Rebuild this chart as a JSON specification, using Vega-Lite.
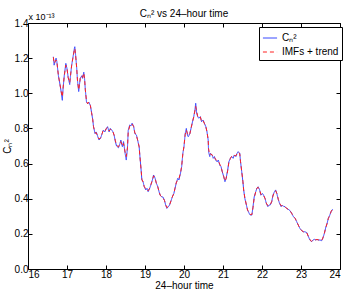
{
  "$schema": "https://vega.github.io/schema/vega-lite/v6.json",
  "width": 312,
  "height": 246,
  "autosize": {"type": "none"},
  "padding": {"left": 28, "top": 23, "right": 7, "bottom": 22},
  "background": "white",
  "config": {
    "font": "Liberation Sans",
    "view": {"stroke": "black", "strokeWidth": 1},
    "axis": {"grid": false, "domain": false, "tickColor": "black", "tickSize": -4, "labelColor": "black", "labelFontSize": 10, "labelFont": "Liberation Sans", "titleFont": "Liberation Sans", "titleFontSize": 10, "titleFontWeight": "normal", "titleColor": "black"}
  },
  "title": {"text": "Cₙ² vs 24–hour time", "fontSize": 10, "fontWeight": "normal", "font": "Liberation Sans", "color": "black", "offset": -6},
  "data": {"values": [
    {"t":16.65,"c":1.208,"m":1.205},{"t":16.67,"c":1.16,"m":1.17},{"t":16.72,"c":1.20,"m":1.19},{"t":16.74,"c":1.18,"m":1.18},{"t":16.78,"c":1.10,"m":1.10},{"t":16.82,"c":1.05,"m":1.05},{"t":16.85,"c":1.01,"m":1.01},{"t":16.88,"c":0.96,"m":0.98},{"t":16.90,"c":1.03,"m":1.03},{"t":16.93,"c":1.10,"m":1.10},{"t":16.97,"c":1.17,"m":1.16},{"t":17.00,"c":1.14,"m":1.14},{"t":17.03,"c":1.09,"m":1.09},{"t":17.07,"c":1.05,"m":1.06},{"t":17.09,"c":1.10,"m":1.10},{"t":17.12,"c":1.16,"m":1.16},{"t":17.15,"c":1.20,"m":1.20},{"t":17.19,"c":1.256,"m":1.25},{"t":17.20,"c":1.265,"m":1.255},{"t":17.22,"c":1.22,"m":1.22},{"t":17.25,"c":1.14,"m":1.14},{"t":17.27,"c":1.07,"m":1.07},{"t":17.30,"c":1.01,"m":1.02},{"t":17.32,"c":1.05,"m":1.05},{"t":17.34,"c":1.085,"m":1.085},{"t":17.38,"c":1.10,"m":1.10},{"t":17.40,"c":1.085,"m":1.09},{"t":17.43,"c":1.12,"m":1.115},{"t":17.45,"c":1.085,"m":1.085},{"t":17.47,"c":1.02,"m":1.02},{"t":17.50,"c":0.95,"m":0.955},{"t":17.53,"c":0.94,"m":0.94},{"t":17.56,"c":0.95,"m":0.95},{"t":17.60,"c":0.93,"m":0.93},{"t":17.63,"c":0.89,"m":0.89},{"t":17.66,"c":0.85,"m":0.85},{"t":17.68,"c":0.81,"m":0.81},{"t":17.72,"c":0.77,"m":0.775},{"t":17.75,"c":0.78,"m":0.775},{"t":17.79,"c":0.753,"m":0.755},{"t":17.82,"c":0.734,"m":0.74},{"t":17.86,"c":0.744,"m":0.745},{"t":17.90,"c":0.77,"m":0.77},{"t":17.93,"c":0.79,"m":0.79},{"t":17.97,"c":0.78,"m":0.785},{"t":18.01,"c":0.80,"m":0.80},{"t":18.04,"c":0.81,"m":0.805},{"t":18.08,"c":0.78,"m":0.785},{"t":18.11,"c":0.80,"m":0.795},{"t":18.15,"c":0.79,"m":0.79},{"t":18.18,"c":0.78,"m":0.78},{"t":18.21,"c":0.76,"m":0.76},{"t":18.24,"c":0.725,"m":0.73},{"t":18.27,"c":0.70,"m":0.705},{"t":18.32,"c":0.69,"m":0.695},{"t":18.36,"c":0.715,"m":0.715},{"t":18.38,"c":0.734,"m":0.725},{"t":18.42,"c":0.696,"m":0.70},{"t":18.45,"c":0.725,"m":0.715},{"t":18.49,"c":0.658,"m":0.665},{"t":18.52,"c":0.62,"m":0.64},{"t":18.55,"c":0.687,"m":0.69},{"t":18.57,"c":0.79,"m":0.78},{"t":18.61,"c":0.82,"m":0.815},{"t":18.64,"c":0.814,"m":0.815},{"t":18.67,"c":0.83,"m":0.825},{"t":18.71,"c":0.81,"m":0.81},{"t":18.74,"c":0.77,"m":0.775},{"t":18.78,"c":0.763,"m":0.76},{"t":18.81,"c":0.734,"m":0.735},{"t":18.85,"c":0.696,"m":0.695},{"t":18.87,"c":0.64,"m":0.64},{"t":18.90,"c":0.563,"m":0.565},{"t":18.92,"c":0.507,"m":0.51},{"t":18.95,"c":0.497,"m":0.495},{"t":18.98,"c":0.468,"m":0.47},{"t":19.02,"c":0.45,"m":0.455},{"t":19.05,"c":0.459,"m":0.455},{"t":19.08,"c":0.44,"m":0.445},{"t":19.12,"c":0.459,"m":0.46},{"t":19.15,"c":0.478,"m":0.48},{"t":19.19,"c":0.507,"m":0.505},{"t":19.22,"c":0.535,"m":0.53},{"t":19.26,"c":0.516,"m":0.515},{"t":19.29,"c":0.488,"m":0.49},{"t":19.33,"c":0.468,"m":0.465},{"t":19.36,"c":0.44,"m":0.44},{"t":19.39,"c":0.42,"m":0.42},{"t":19.43,"c":0.41,"m":0.41},{"t":19.46,"c":0.41,"m":0.405},{"t":19.50,"c":0.39,"m":0.39},{"t":19.53,"c":0.364,"m":0.365},{"t":19.56,"c":0.345,"m":0.35},{"t":19.60,"c":0.355,"m":0.355},{"t":19.63,"c":0.364,"m":0.365},{"t":19.67,"c":0.39,"m":0.39},{"t":19.70,"c":0.41,"m":0.41},{"t":19.74,"c":0.43,"m":0.43},{"t":19.77,"c":0.459,"m":0.46},{"t":19.80,"c":0.488,"m":0.49},{"t":19.84,"c":0.516,"m":0.51},{"t":19.87,"c":0.507,"m":0.515},{"t":19.91,"c":0.545,"m":0.545},{"t":19.94,"c":0.582,"m":0.585},{"t":19.97,"c":0.658,"m":0.655},{"t":20.00,"c":0.696,"m":0.70},{"t":20.03,"c":0.77,"m":0.765},{"t":20.06,"c":0.80,"m":0.79},{"t":20.09,"c":0.76,"m":0.77},{"t":20.11,"c":0.753,"m":0.76},{"t":20.15,"c":0.77,"m":0.77},{"t":20.18,"c":0.80,"m":0.80},{"t":20.21,"c":0.83,"m":0.83},{"t":20.25,"c":0.867,"m":0.865},{"t":20.28,"c":0.905,"m":0.90},{"t":20.30,"c":0.943,"m":0.925},{"t":20.32,"c":0.895,"m":0.90},{"t":20.35,"c":0.867,"m":0.87},{"t":20.38,"c":0.858,"m":0.86},{"t":20.42,"c":0.867,"m":0.865},{"t":20.45,"c":0.838,"m":0.84},{"t":20.49,"c":0.848,"m":0.845},{"t":20.52,"c":0.83,"m":0.83},{"t":20.56,"c":0.81,"m":0.81},{"t":20.59,"c":0.78,"m":0.78},{"t":20.62,"c":0.734,"m":0.735},{"t":20.63,"c":0.668,"m":0.685},{"t":20.66,"c":0.64,"m":0.65},{"t":20.68,"c":0.658,"m":0.655},{"t":20.72,"c":0.649,"m":0.65},{"t":20.75,"c":0.63,"m":0.635},{"t":20.78,"c":0.64,"m":0.635},{"t":20.81,"c":0.62,"m":0.625},{"t":20.85,"c":0.61,"m":0.615},{"t":20.88,"c":0.62,"m":0.615},{"t":20.92,"c":0.59,"m":0.595},{"t":20.95,"c":0.582,"m":0.58},{"t":20.98,"c":0.554,"m":0.555},{"t":21.02,"c":0.525,"m":0.525},{"t":21.05,"c":0.497,"m":0.50},{"t":21.08,"c":0.516,"m":0.515},{"t":21.12,"c":0.563,"m":0.56},{"t":21.15,"c":0.61,"m":0.605},{"t":21.19,"c":0.63,"m":0.63},{"t":21.22,"c":0.64,"m":0.64},{"t":21.26,"c":0.63,"m":0.635},{"t":21.29,"c":0.649,"m":0.645},{"t":21.33,"c":0.64,"m":0.645},{"t":21.36,"c":0.658,"m":0.655},{"t":21.39,"c":0.668,"m":0.665},{"t":21.43,"c":0.658,"m":0.655},{"t":21.45,"c":0.61,"m":0.61},{"t":21.48,"c":0.554,"m":0.555},{"t":21.51,"c":0.497,"m":0.50},{"t":21.53,"c":0.45,"m":0.45},{"t":21.56,"c":0.402,"m":0.405},{"t":21.60,"c":0.364,"m":0.365},{"t":21.63,"c":0.336,"m":0.335},{"t":21.67,"c":0.317,"m":0.32},{"t":21.70,"c":0.307,"m":0.31},{"t":21.74,"c":0.307,"m":0.31},{"t":21.77,"c":0.355,"m":0.35},{"t":21.80,"c":0.41,"m":0.405},{"t":21.84,"c":0.44,"m":0.44},{"t":21.87,"c":0.46,"m":0.46},{"t":21.90,"c":0.468,"m":0.465},{"t":21.94,"c":0.45,"m":0.45},{"t":21.97,"c":0.42,"m":0.425},{"t":22.01,"c":0.43,"m":0.425},{"t":22.04,"c":0.42,"m":0.42},{"t":22.08,"c":0.40,"m":0.40},{"t":22.11,"c":0.374,"m":0.375},{"t":22.15,"c":0.355,"m":0.36},{"t":22.18,"c":0.364,"m":0.36},{"t":22.21,"c":0.364,"m":0.365},{"t":22.25,"c":0.383,"m":0.385},{"t":22.28,"c":0.42,"m":0.415},{"t":22.32,"c":0.44,"m":0.44},{"t":22.35,"c":0.45,"m":0.445},{"t":22.38,"c":0.43,"m":0.43},{"t":22.42,"c":0.393,"m":0.395},{"t":22.45,"c":0.374,"m":0.375},{"t":22.49,"c":0.355,"m":0.36},{"t":22.52,"c":0.364,"m":0.36},{"t":22.56,"c":0.355,"m":0.355},{"t":22.59,"c":0.355,"m":0.355},{"t":22.63,"c":0.345,"m":0.345},{"t":22.67,"c":0.34,"m":0.34},{"t":22.72,"c":0.332,"m":0.33},{"t":22.76,"c":0.317,"m":0.318},{"t":22.80,"c":0.30,"m":0.30},{"t":22.85,"c":0.288,"m":0.288},{"t":22.89,"c":0.269,"m":0.27},{"t":22.93,"c":0.25,"m":0.25},{"t":22.97,"c":0.232,"m":0.232},{"t":23.02,"c":0.218,"m":0.218},{"t":23.06,"c":0.212,"m":0.212},{"t":23.10,"c":0.212,"m":0.211},{"t":23.15,"c":0.207,"m":0.205},{"t":23.19,"c":0.184,"m":0.185},{"t":23.23,"c":0.165,"m":0.166},{"t":23.27,"c":0.155,"m":0.158},{"t":23.31,"c":0.165,"m":0.164},{"t":23.34,"c":0.169,"m":0.168},{"t":23.38,"c":0.165,"m":0.166},{"t":23.41,"c":0.169,"m":0.168},{"t":23.44,"c":0.165,"m":0.166},{"t":23.49,"c":0.165,"m":0.165},{"t":23.53,"c":0.161,"m":0.163},{"t":23.56,"c":0.175,"m":0.176},{"t":23.60,"c":0.203,"m":0.203},{"t":23.63,"c":0.232,"m":0.232},{"t":23.67,"c":0.26,"m":0.26},{"t":23.70,"c":0.288,"m":0.287},{"t":23.74,"c":0.307,"m":0.307},{"t":23.77,"c":0.326,"m":0.326},{"t":23.81,"c":0.34,"m":0.34}
  ]},
  "layer": [
    {
      "transform": [{"fold": ["c", "m"], "as": ["series", "val"]}],
      "mark": {"type": "line", "strokeWidth": 1, "clip": true},
      "encoding": {
        "x": {"field": "t", "type": "quantitative", "scale": {"domain": [16, 24], "nice": false, "zero": false},
              "axis": {"orient": "bottom", "values": [16,17,18,19,20,21,22,23,24], "title": "24–hour time", "labelPadding": 4, "titlePadding": 1, "format": "d"}},
        "y": {"field": "val", "type": "quantitative", "scale": {"domain": [0, 1.4], "nice": false},
              "axis": {"orient": "left", "values": [0,0.2,0.4,0.6,0.8,1,1.2,1.4], "title": "Cₙ²", "labelPadding": 4, "titleX": -16, "titleY": 123, "titleAngle": -90}},
        "color": {"field": "series", "type": "nominal", "scale": {"domain": ["c", "m"], "range": ["#3344ff", "#ff2020"]},
                  "legend": {"orient": "none", "legendX": 231, "legendY": 4, "title": null, "strokeColor": "black", "fillColor": "white", "padding": 3, "symbolType": "stroke", "symbolSize": 200, "symbolStrokeWidth": 1, "labelFontSize": 10, "labelFont": "Liberation Sans", "labelColor": "black", "rowPadding": 1, "labelExpr": "datum.value == 'c' ? 'Cₙ²' : 'IMFs + trend'"}},
        "strokeDash": {"field": "series", "type": "nominal", "scale": {"domain": ["c", "m"], "range": [[1, 0], [4, 3]]},
                  "legend": {"orient": "none", "legendX": 231, "legendY": 4, "title": null, "strokeColor": "black", "fillColor": "white", "padding": 3, "symbolType": "stroke", "symbolSize": 200, "symbolStrokeWidth": 1, "labelFontSize": 10, "labelFont": "Liberation Sans", "labelColor": "black", "rowPadding": 1, "labelExpr": "datum.value == 'c' ? 'Cₙ²' : 'IMFs + trend'"}}
      }
    },
    {
      "mark": {"type": "line", "opacity": 0},
      "encoding": {
        "x": {"field": "t", "type": "quantitative",
              "axis": {"orient": "top", "values": [16,17,18,19,20,21,22,23,24], "labels": false, "title": "x 10⁻¹³", "titleAnchor": "start", "titleAlign": "left", "titlePadding": 1, "titleFontSize": 9}},
        "y": {"field": "c", "type": "quantitative",
              "axis": {"orient": "right", "values": [0,0.2,0.4,0.6,0.8,1,1.2,1.4], "labels": false, "title": null}}
      }
    }
  ],
  "resolve": {"axis": {"x": "independent", "y": "independent"}}
}
